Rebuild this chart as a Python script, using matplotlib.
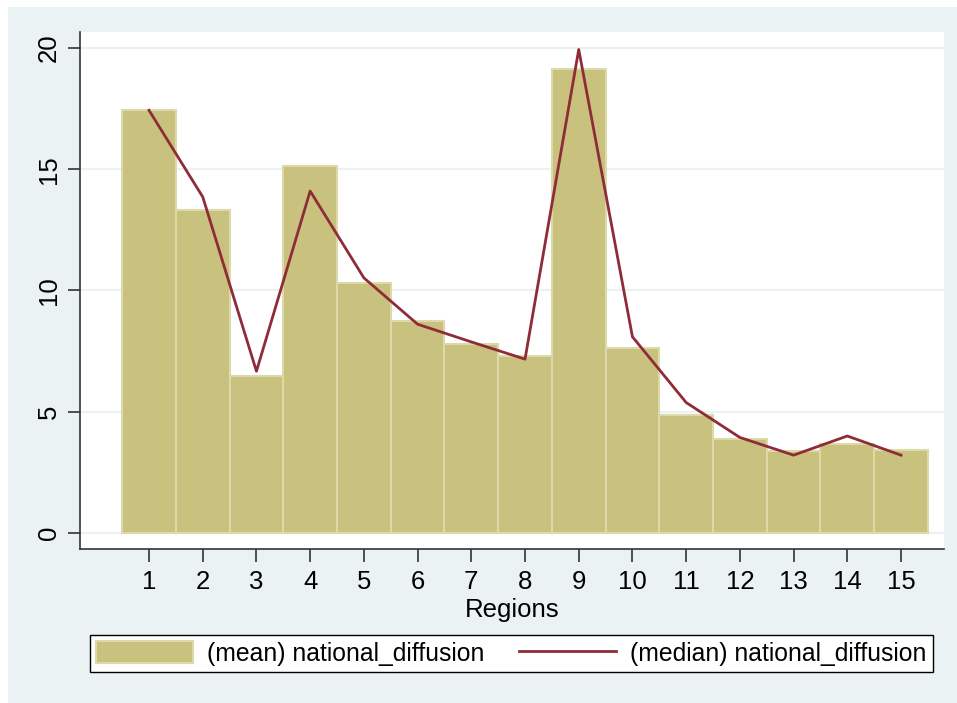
import matplotlib
matplotlib.use("Agg")
import matplotlib.pyplot as plt
from matplotlib.patches import Rectangle

regions = list(range(1, 16))
mean_values = [17.43, 13.34, 6.48, 15.12, 10.29, 8.73, 7.79, 7.31, 19.13, 7.61, 4.86, 3.87, 3.38, 3.67, 3.42]
median_values = [17.43, 13.86, 6.67, 14.10, 10.52, 8.61, 7.88, 7.17, 19.94, 8.09, 5.38, 3.94, 3.21, 4.00, 3.21]
y_ticks = [0, 5, 10, 15, 20]

plt.rcParams['font.family'] = ['Liberation Sans', 'DejaVu Sans']

W, H = 957, 703
fig = plt.figure(figsize=(W / 100, H / 100), dpi=100)
fig.patch.set_facecolor('white')
bg = Rectangle((8 / W, 0), 1 - 8 / W, 1 - 7 / H, transform=fig.transFigure,
               facecolor='#EAF2F3', edgecolor='none', zorder=-10)
fig.add_artist(bg)

ax = fig.add_axes([80 / W, 1 - 549 / H, (944 - 80) / W, (549 - 32) / H])
ax.set_facecolor('white')

bar_color = '#C9C27E'
bar_edge = '#DDD9AA'
line_color = '#8E2C37'

bars = ax.bar(regions, mean_values, width=1.0, color=bar_color, edgecolor=bar_edge,
              linewidth=1.5, zorder=2, label='(mean) national_diffusion')
line, = ax.plot(regions, median_values, color=line_color, linewidth=2.0, zorder=3,
                label='(median) national_diffusion')

ax.set_xlim(-0.285, 15.8)
ax.set_ylim(-0.66, 20.66)
ax.set_yticks(y_ticks)
ax.set_xticks(regions)
ax.set_yticklabels([str(v) for v in y_ticks], rotation=90, va='center')
ax.yaxis.grid(True, color='#EAF2F3', linewidth=1.6, zorder=0)
ax.set_axisbelow(True)

for s in ['top', 'right']:
    ax.spines[s].set_visible(False)
for s in ['left', 'bottom']:
    ax.spines[s].set_color('#333333')
    ax.spines[s].set_linewidth(1.2)

ax.tick_params(axis='both', direction='out', length=9, width=1.2, color='#333333',
               labelsize=18.5, labelcolor='black')
ax.tick_params(axis='y', pad=5)
ax.tick_params(axis='x', pad=6)
ax.set_xlabel('Regions', fontsize=18.5, labelpad=3)

leg = fig.legend([bars, line], ['(mean) national_diffusion', '(median) national_diffusion'],
                 loc='lower left', ncol=2, mode='expand',
                 bbox_to_anchor=(90 / W, 1 - 672 / H, (933 - 90) / W, 45 / H),
                 fontsize=17.8, frameon=True, fancybox=False, handlelength=3.9,
                 handleheight=1.0, borderaxespad=0, borderpad=0.25,
                 handletextpad=0.6, columnspacing=1.5, framealpha=1.0)
leg.get_frame().set_edgecolor('black')
leg.get_frame().set_linewidth(1.0)
leg.get_frame().set_facecolor('white')

fig.savefig('out.png', dpi=100, facecolor=fig.get_facecolor())
